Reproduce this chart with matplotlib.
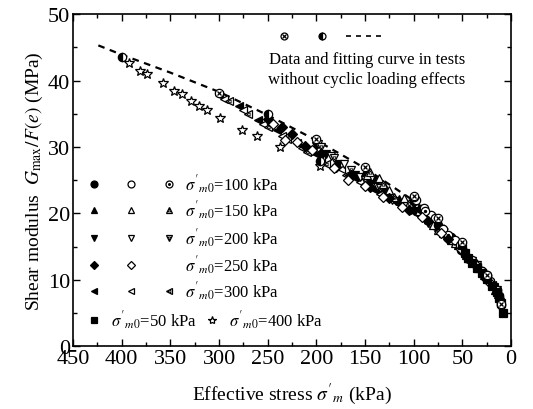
import matplotlib
matplotlib.use('Agg')
import matplotlib.pyplot as plt
from matplotlib.ticker import MultipleLocator

plt.rcParams['font.family'] = ['Liberation Serif', 'DejaVu Serif']
plt.rcParams['mathtext.fontset'] = 'stix'

# sigma'_m0 = 300 kPa  (left triangles)
s300_fill_x = [300, 280, 260, 240, 220, 200, 180, 160, 140, 120, 100, 80, 60, 40, 25, 15]
s300_fill_y = [37.8, 36.2, 34.0, 32.5, 30.6, 29.0, 27.3, 25.3, 23.6, 21.8, 20.2, 18.0, 15.6, 12.6, 10.0, 8.0]
s300_open_x = [295, 275, 255, 235, 215, 195, 175, 155, 135, 115, 95, 75, 55, 35, 20]
s300_open_y = [37.3, 35.6, 33.5, 31.7, 29.8, 28.3, 26.7, 24.8, 23.0, 21.4, 19.8, 17.3, 15.0, 12.0, 9.2]
s300_dot_x = [290, 270, 250, 230, 210, 190, 170, 150, 130, 110, 90, 70, 50, 30, 18]
s300_dot_y = [37.0, 35.0, 33.0, 31.2, 29.3, 27.5, 25.8, 24.4, 22.5, 21.0, 19.2, 16.7, 14.3, 11.0, 8.8]

# sigma'_m0 = 250 kPa  (diamonds)
s250_fill_x = [250, 235, 225, 212, 195, 180, 165, 145, 125, 105, 85, 65, 45, 28, 14]
s250_fill_y = [34.2, 33.0, 32.0, 30.2, 29.0, 27.0, 25.8, 24.0, 22.3, 20.5, 18.8, 16.2, 13.5, 10.8, 7.8]
s250_open_x = [245, 232, 220, 205, 182, 168, 150, 132, 112, 92, 72, 52, 36, 22]
s250_open_y = [33.5, 31.0, 30.8, 29.6, 26.9, 25.0, 24.2, 22.5, 21.0, 19.4, 17.0, 14.6, 12.3, 9.6]

# sigma'_m0 = 200 kPa  (down triangles)
s200_fill_x = [200, 190, 178, 160, 145, 130, 115, 100, 85, 65, 48, 32, 18, 12]
s200_fill_y = [30.2, 29.0, 27.5, 25.8, 24.5, 23.2, 21.6, 20.3, 18.5, 16.0, 13.8, 11.4, 8.9, 7.3]
s200_open_x = [198, 185, 172, 155, 138, 122, 108, 90, 72, 55, 40, 26, 15]
s200_open_y = [30.5, 28.6, 27.5, 25.5, 24.2, 22.0, 21.1, 19.5, 17.0, 15.0, 12.8, 10.3, 8.5]
s200_dot_x = [195, 182, 165, 150, 135, 118, 103, 88, 68, 50, 35, 22]
s200_dot_y = [30.0, 28.3, 26.5, 25.0, 23.8, 21.9, 20.5, 19.0, 16.5, 14.5, 12.2, 9.6]

# sigma'_m0 = 150 kPa  (up triangles)
s150_fill_x = [150, 140, 130, 115, 100, 85, 70, 55, 42, 30, 17]
s150_fill_y = [26.3, 25.2, 24.0, 22.2, 20.6, 19.2, 17.0, 15.3, 13.3, 11.2, 8.5]
s150_open_x = [148, 136, 125, 110, 95, 80, 62, 46, 33, 20]
s150_open_y = [25.8, 25.4, 23.5, 22.3, 20.4, 18.2, 16.0, 13.8, 11.8, 9.2]
s150_dot_x = [145, 132, 120, 105, 90, 75, 58, 44, 28, 13]
s150_dot_y = [26.2, 24.5, 22.5, 21.6, 19.7, 17.5, 15.5, 13.3, 10.7, 7.8]

# sigma'_m0 = 100 kPa  (circles)
s100_fill_x = [100, 93, 85, 75, 62, 52, 43, 35, 27, 19, 11]
s100_fill_y = [21.8, 20.6, 19.5, 18.3, 16.5, 14.5, 13.2, 12.0, 10.5, 9.0, 7.0]
s100_open_x = [98, 90, 82, 70, 58, 48, 38, 25, 15, 10]
s100_open_y = [22.0, 20.8, 19.8, 17.6, 16.0, 14.2, 12.5, 10.8, 8.5, 6.2]
s100_dot_x = [100, 88, 78, 65, 53, 40, 30, 22, 12]
s100_dot_y = [22.5, 20.3, 19.3, 16.8, 15.3, 13.0, 11.4, 9.8, 7.5]

# sigma'_m0 = 50 kPa (squares) and 400 kPa (stars)
s50_x = [50, 47, 44, 40, 35, 30, 25, 20, 15, 12, 10, 8]
s50_y = [15.3, 14.0, 13.3, 12.6, 11.8, 11.0, 10.2, 9.1, 8.2, 7.3, 6.5, 5.0]
s400_x = [392, 381.6, 374, 357.6, 346.7, 338, 329.3, 320.7, 312.8, 298.8, 276.5, 261, 237, 196]
s400_y = [42.6, 41.5, 41.0, 39.7, 38.5, 38.0, 36.9, 36.2, 35.6, 34.3, 32.5, 31.7, 30.0, 27.2]

# tests without cyclic loading effects
ref_cross_x = [300, 200, 150, 100, 75, 50, 25, 10]
ref_cross_y = [38.2, 31.2, 27.0, 22.6, 19.3, 15.7, 10.8, 6.3]
ref_half_x = [400, 250, 196]
ref_half_y = [43.5, 34.9, 27.9]
fit_x = [424, 400, 350, 300, 250, 200, 150, 100, 75, 45]
fit_y = [45.3, 43.9, 41.2, 38.3, 34.8, 31.0, 26.8, 21.9, 19.0, 14.7]

legend_labels = ['100', '150', '200', '250', '300']

fig = plt.figure(figsize=(5.33, 4.10), dpi=100)
ax = fig.add_axes([0.137, 0.153, 0.822, 0.810])

ms = 6
mk = dict(color='k', linestyle='none', mew=0.9)


def filled(x, y, m, s=ms):
    ax.plot(x, y, marker=m, ms=s, mfc='k', mec='k', **mk)


def hollow(x, y, m, s=ms):
    ax.plot(x, y, marker=m, ms=s, mfc='white', mec='k', **mk)


def dotted(x, y, m, s=ms):
    hollow(x, y, m, s)
    if m == 'o':
        ax.plot(x, y, marker='o', ms=s * 0.25, mfc='k', mec='k', **mk)
    else:
        ax.plot(x, y, marker=m, ms=s * 0.4, mfc='white', mec='k', color='k',
                linestyle='none', mew=0.6)


ax.plot(fit_x, fit_y, 'k--', lw=1.6, dashes=(3, 2.5), zorder=1)

for m, xs in [('<', (s300_fill_x, s300_fill_y, s300_open_x, s300_open_y, s300_dot_x, s300_dot_y)),
              ('v', (s200_fill_x, s200_fill_y, s200_open_x, s200_open_y, s200_dot_x, s200_dot_y)),
              ('^', (s150_fill_x, s150_fill_y, s150_open_x, s150_open_y, s150_dot_x, s150_dot_y)),
              ('o', (s100_fill_x, s100_fill_y, s100_open_x, s100_open_y, s100_dot_x, s100_dot_y))]:
    filled(xs[0], xs[1], m)
    hollow(xs[2], xs[3], m)
    dotted(xs[4], xs[5], m)

filled(s250_fill_x, s250_fill_y, 'D', ms * 0.85)
hollow(s250_open_x, s250_open_y, 'D', ms * 0.85)
filled(s50_x, s50_y, 's', ms * 0.85)
hollow(s400_x, s400_y, '*', ms * 1.2)

ax.plot(ref_cross_x, ref_cross_y, marker='o', ms=ms, mfc='white', mec='k', **mk)
ax.plot(ref_cross_x, ref_cross_y, marker='x', ms=ms * 0.55, mec='k', **mk)
ax.plot(ref_half_x, ref_half_y, marker='o', ms=ms, mec='k', mfc='k',
        fillstyle='left', markerfacecoloralt='white', **mk)

# legend for the cyclic loading series (drawn by hand)
leg_y = [24.5, 20.5, 16.3, 12.3, 8.3]
leg_m = ['o', '^', 'v', 'D', '<']
ls = 5
fs = 12
for i, (m, yy) in enumerate(zip(leg_m, leg_y)):
    s = ls * 0.85 if m == 'D' else ls
    filled([428.8], [yy], m, s)
    hollow([390], [yy], m, s)
    if m != 'D':
        dotted([351], [yy], m, s)
    ax.text(335, yy, r"$\sigma'_{m0}$=" + legend_labels[i] + ' kPa', fontsize=fs,
            va='center', ha='left')
filled([428.8], [4.0], 's', ls * 0.85)
ax.text(411, 4.0, r"$\sigma'_{m0}$=50 kPa", fontsize=fs, va='center', ha='left')
hollow([307], [4.0], '*', ls * 1.2)
ax.text(290, 4.0, r"$\sigma'_{m0}$=400 kPa", fontsize=fs, va='center', ha='left')

# legend for tests without cyclic loading
ax.plot([233.7], [46.7], marker='o', ms=ls, mfc='white', mec='k', **mk)
ax.plot([233.7], [46.7], marker='x', ms=ls * 0.55, mec='k', **mk)
ax.plot([194.4], [46.7], marker='o', ms=ls, mec='k', mfc='k',
        fillstyle='left', markerfacecoloralt='white', **mk)
ax.plot([170, 131], [46.7, 46.7], 'k--', lw=1.2, dashes=(3, 3))
ax.text(148, 43.3, 'Data and fitting curve in tests', fontsize=fs, ha='center', va='center')
ax.text(148, 40.2, 'without cyclic loading effects', fontsize=fs, ha='center', va='center')

ax.set_xlim(450, 0)
ax.set_ylim(0, 50)
ax.xaxis.set_major_locator(MultipleLocator(50))
ax.xaxis.set_minor_locator(MultipleLocator(25))
ax.yaxis.set_major_locator(MultipleLocator(10))
ax.yaxis.set_minor_locator(MultipleLocator(5))
ax.tick_params(which='both', direction='in', top=True, right=True, labelsize=16, width=1)
ax.tick_params(which='major', length=5)
ax.tick_params(which='minor', length=3)
ax.tick_params(axis='x', pad=2)
ax.tick_params(axis='y', pad=2)
for sp in ax.spines.values():
    sp.set_linewidth(1.2)

ax.set_xlabel(r"Effective stress $\sigma'_m$ (kPa)", fontsize=14, labelpad=9)
ax.set_ylabel(r"Shear modulus  $G_{\mathrm{max}}/F(e)$ (MPa)", fontsize=14, labelpad=2)

fig.savefig('out.png', dpi=100)
